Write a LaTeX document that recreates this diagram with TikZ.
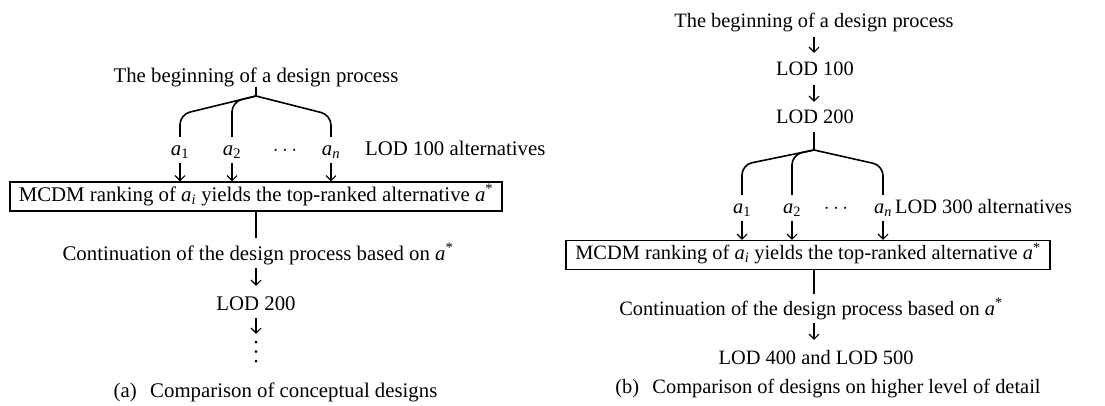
\documentclass[tikz,border=0pt]{standalone}
\usepackage{fontspec}
\setmainfont{Liberation Serif}
\usetikzlibrary{arrows.meta}
\newcommand{\va}[1]{\textit{a}\textsubscript{#1}}
\newcommand{\astar}{\textit{a}\textsuperscript{*}}
\begin{document}
\begin{tikzpicture}[x=1pt,y=-1pt,
  every node/.style={inner sep=0pt, text height=14pt, text depth=4.5pt},
  fa/.style={font=\fontsize{20.8}{25}\selectfont},
  fb/.style={font=\fontsize{20.4}{24}\selectfont},
  lbl/.style={anchor=base},
  arr/.style={-{Straight Barb[length=5pt,width=10pt]}, line width=1.1pt},
  ln/.style={line width=1.6pt},
  br/.style={line width=1.6pt, rounded corners=10pt},
  boxn/.style={draw, line width=1.4pt, minimum height=29pt}]
\useasboundingbox (0,0) rectangle (1105,405);

% ---------------- (a) ----------------
\node[fa,lbl] (begA) at (256,82) {The beginning of a design process};
\coordinate (JA) at (256,96);
\node[fa,lbl] (a1A) at (180,155) {\va{1}};
\node[fa,lbl] (a2A) at (232,155) {\va{2}};
\node[fa,lbl] (dA)  at (285,155) {$\cdots$};
\node[fa,lbl] (anA) at (331,155) {\va{\textit{n}}};
\node[fa,anchor=base west] (altA) at (365,155) {LOD 100 alternatives};
\node[fa,boxn,minimum width=492pt] (boxA) at (256,196.5) {MCDM ranking of \va{\textit{i}} yields the top-ranked alternative \astar};
\node[fa,lbl] (contA) at (258,260) {Continuation of the design process based on \astar};
\node[fa,lbl] (lodA) at (256,310) {LOD 200};
\node[minimum height=24pt, text height=, text depth=] (vdA) at (256,351.5) {};
\node[fa,lbl] (capA) at (275.5,397) {(a)\hspace{0.4em} Comparison of conceptual designs};

\draw[ln] (begA.south) -- (JA);
\draw[br, shorten >=4pt] (JA) -- (180,114.5) -- (a1A.north);
\draw[br, shorten >=4pt] (JA) -- (232,101.8) -- (a2A.north);
\draw[br, shorten >=4pt] (JA) -- (331,115) -- (anA.north);
\foreach \n in {a1A,a2A,anA}
  \draw[arr, shorten <=3.5pt] (\n.south) -- (\n.south |- boxA.north);
\draw[ln, shorten >=8pt] (boxA.south) -- (boxA.south |- contA.north);
\draw[arr, shorten <=3.5pt, shorten >=10pt] (lodA.north |- contA.south) -- (lodA.north);
\draw[arr, shorten <=3.5pt, shorten >=5.5pt] (lodA.south) -- (vdA.north);
\foreach \d in {-9.5,0,9.5}
  \fill ([yshift=\d pt]vdA.center) circle (1.5pt);

% ---------------- (b) ----------------
\node[fb,lbl] (begB) at (814,27) {The beginning of a design process};
\node[fb,lbl] (lod1B) at (815,75) {LOD 100};
\node[fb,lbl] (lod2B) at (815,123) {LOD 200};
\coordinate (JB) at (814,150);
\node[fb,lbl] (a1B) at (742,213) {\va{1}};
\node[fb,lbl] (a2B) at (792,213) {\va{2}};
\node[fb,lbl] (dB)  at (836,213) {$\cdots$};
\node[fb,lbl] (anB) at (883,213) {\va{\textit{n}}};
\node[fb,anchor=base west] (altB) at (895,213) {LOD 300 alternatives};
\node[fb,boxn,minimum width=484pt] (boxB) at (808,255) {MCDM ranking of \va{\textit{i}} yields the top-ranked alternative \astar};
\node[fb,lbl] (contB) at (811,315) {Continuation of the design process based on \astar};
\node[fb,lbl] (lod4B) at (816,364) {LOD 400 and LOD 500};
\node[fb,lbl] (capB) at (828,393) {(b)\hspace{0.4em} Comparison of designs on higher level of detail};

\draw[arr, shorten <=5.5pt, shorten >=8pt] (begB.south -| JB) -- (lod1B.north -| JB);
\draw[arr, shorten <=5.5pt, shorten >=7pt] (lod1B.south -| JB) -- (lod2B.north -| JB);
\draw[ln, shorten <=4.5pt] (lod2B.south -| JB) -- (JB);
\draw[br, shorten >=4pt] (JB) -- (742,164.8) -- (a1B.north);
\draw[br, shorten >=4pt] (JB) -- (792,154.7) -- (a2B.north);
\draw[br, shorten >=4pt] (JB) -- (883,165.5) -- (anB.north);
\foreach \n in {a1B,a2B,anB}
  \draw[arr, shorten <=3.5pt] (\n.south) -- (\n.south |- boxB.north);
\draw[ln, shorten >=7pt] (JB |- boxB.south) -- (JB |- contB.north);
\draw[arr, shorten <=3.5pt, shorten >=10pt] (JB |- contB.south) -- (JB |- lod4B.north);
\end{tikzpicture}
\end{document}
